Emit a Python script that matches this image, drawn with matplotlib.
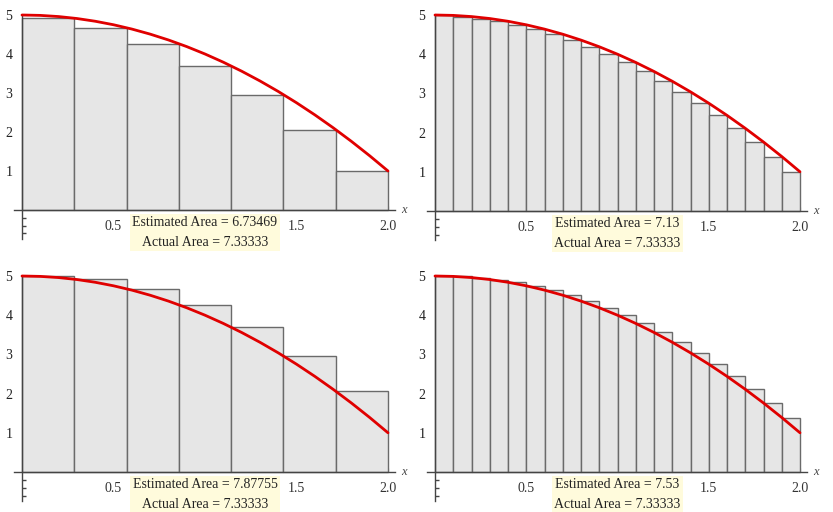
import numpy as np
import matplotlib.pyplot as plt

plt.rcParams['font.family'] = ['Liberation Serif', 'DejaVu Serif']

# curve y = 5 - x^2, values read at steps of 0.1
curve_x = [0.0, 0.1, 0.2, 0.3, 0.4, 0.5, 0.6, 0.7, 0.8, 0.9, 1.0,
           1.1, 1.2, 1.3, 1.4, 1.5, 1.6, 1.7, 1.8, 1.9, 2.0]
curve_y = [5.0, 4.99, 4.96, 4.91, 4.84, 4.75, 4.64, 4.51, 4.36, 4.19, 4.0,
           3.79, 3.56, 3.31, 3.04, 2.75, 2.44, 2.11, 1.76, 1.39, 1.0]

# rectangle heights for each panel
right7 = [4.918, 4.673, 4.265, 3.694, 2.959, 2.061, 1.0]
right20 = [4.99, 4.96, 4.91, 4.84, 4.75, 4.64, 4.51, 4.36, 4.19, 4.0,
           3.79, 3.56, 3.31, 3.04, 2.75, 2.44, 2.11, 1.76, 1.39, 1.0]
left7 = [5.0, 4.918, 4.673, 4.265, 3.694, 2.959, 2.061]
left20 = [5.0, 4.99, 4.96, 4.91, 4.84, 4.75, 4.64, 4.51, 4.36, 4.19,
          4.0, 3.79, 3.56, 3.31, 3.04, 2.75, 2.44, 2.11, 1.76, 1.39]

estimates = ["6.73469", "7.13", "7.87755", "7.53"]
actual = "7.33333"
xtick_vals = [0.5, 1.0, 1.5, 2.0]
xtick_text = ['0.5', '', '1.5', '2.0']  # 1.0 sits under the area box

W, H = 833, 512
fig = plt.figure(figsize=(W / 100, H / 100), dpi=100)

XL = (-0.044, 2.04)
YL = (-0.76, 5.12)


def make_axes(x0, x2, y0, y5):
    # pixel positions of data x=0, x=2, y=0, y=5
    sx = (x2 - x0) / 2.0
    sy = (y0 - y5) / 5.0
    left = x0 + XL[0] * sx
    width = (XL[1] - XL[0]) * sx
    bottom = y0 - YL[0] * sy
    height = (YL[1] - YL[0]) * sy
    ax = fig.add_axes([left / W, (H - bottom) / H, width / W, height / H])
    ax.set_xlim(*XL)
    ax.set_ylim(*YL)
    return ax


def draw_panel(ax, heights, est):
    n = len(heights)
    edges = np.linspace(0, 2, n + 1)
    ax.bar(edges[:-1], heights, width=edges[1] - edges[0], align='edge',
           facecolor='#e6e6e6', edgecolor='#6a6a6a', linewidth=1.0, zorder=2)
    ax.plot(curve_x, curve_y, color='#e00000', lw=2.0, zorder=4,
            solid_capstyle='round')

    for s in ['top', 'right']:
        ax.spines[s].set_visible(False)
    ax.spines['left'].set_position(('data', 0))
    ax.spines['bottom'].set_position(('data', 0))
    ax.spines['left'].set_bounds(-0.74, 5.0)
    for s in ['left', 'bottom']:
        ax.spines[s].set_color('#444444')
        ax.spines[s].set_linewidth(1.0)

    ax.set_xticks(xtick_vals)
    ax.set_xticklabels(xtick_text)
    ax.set_yticks([1, 2, 3, 4, 5])
    ax.set_yticks([-0.2, -0.4, -0.6], minor=True)
    ax.tick_params(axis='x', direction='in', length=3, pad=7,
                   labelsize=10, colors='#333333')
    ax.tick_params(axis='y', which='major', direction='in', length=4,
                   pad=7, labelsize=10, colors='#222222')
    ax.tick_params(axis='y', which='minor', direction='in', length=3,
                   width=1.0, colors='#444444')
    ax.patch.set_alpha(0)

    ax.text(2.07, 0.0, 'x', style='italic', fontsize=9, color='#444444',
            ha='left', va='center', clip_on=False)
    ax.text(1.0, -0.58, "Estimated Area = " + est + "\nActual Area = " + actual,
            ha='center', va='center', fontsize=10, color='#222222',
            linespacing=1.7, zorder=6,
            bbox=dict(boxstyle='square,pad=0.15', facecolor='#fffbdc',
                      edgecolor='none'))


draw_panel(make_axes(22, 388, 210, 15), right7, estimates[0])
draw_panel(make_axes(435, 800, 211, 15), right20, estimates[1])
draw_panel(make_axes(22, 388, 472, 276), left7, estimates[2])
draw_panel(make_axes(435, 800, 472, 276), left20, estimates[3])

fig.savefig('out.png', dpi=100)
